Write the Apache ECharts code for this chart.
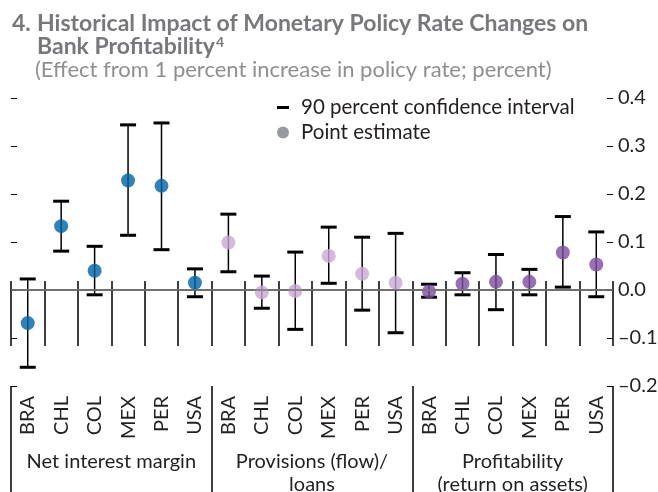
<!DOCTYPE html>
<html>
<head>
<meta charset="utf-8">
<script src="https://cdn.jsdelivr.net/npm/echarts@6/dist/echarts.min.js"></script>
<style>html,body{margin:0;padding:0;background:#fff;}#c{width:658px;height:492px;}</style>
</head>
<body>
<div id="c"></div>
<script>
// ---- data ----
var countries = ['BRA', 'CHL', 'COL', 'MEX', 'PER', 'USA'];
var groups = ['Net interest margin', 'Provisions (flow)/\nloans', 'Profitability\n(return on assets)'];
var yTicks = [-0.2, -0.1, 0.0, 0.1, 0.2, 0.3, 0.4];

var nimPoint = [-0.069, 0.133, 0.040, 0.228, 0.217, 0.015];
var nimLow   = [-0.161, 0.081, -0.010, 0.114, 0.084, -0.014];
var nimHigh  = [0.023, 0.185, 0.091, 0.344, 0.348, 0.044];

var provPoint = [0.099, -0.005, -0.002, 0.071, 0.034, 0.015];
var provLow   = [0.038, -0.038, -0.082, 0.014, -0.042, -0.089];
var provHigh  = [0.158, 0.029, 0.079, 0.131, 0.110, 0.118];

var roaPoint = [-0.003, 0.013, 0.017, 0.017, 0.078, 0.053];
var roaLow   = [-0.015, -0.010, -0.041, -0.010, 0.006, -0.014];
var roaHigh  = [0.012, 0.036, 0.074, 0.043, 0.153, 0.121];

var groupColors = ['#0063a5', '#c9a8d3', '#7c4c9f'];

// ---- build ----
var cats = [];
groups.forEach(function (g, gi) {
  countries.forEach(function (c) { cats.push(gi + '|' + c); });
});
var points = [nimPoint, provPoint, roaPoint];
var lows = [nimLow, provLow, roaLow];
var highs = [nimHigh, provHigh, roaHigh];
var pointData = [], barData = [];
points.forEach(function (arr, gi) {
  arr.forEach(function (v, i) {
    var idx = gi * countries.length + i;
    pointData.push({ value: [idx, v], itemStyle: { color: groupColors[gi] } });
    barData.push([idx, lows[gi][i], highs[gi][i]]);
  });
});

var FONT = 'Lato';
var TXT = '#231f20';
var TCOL = '#77787b';
var chart = echarts.init(document.getElementById('c'), null, { renderer: 'canvas' });
chart.setOption({
  animation: false,
  textStyle: { fontFamily: FONT },
  title: [
    { text: '4.', left: 12, top: 12, padding: 0, textStyle: { fontSize: 23, fontWeight: 'bold', color: TCOL, fontFamily: FONT, lineHeight: 23 } },
    { text: 'Historical Impact of Monetary Policy Rate Changes on\nBank Profitability{sup|4}', left: 37, top: 12, padding: 0,
      textStyle: { fontSize: 23, fontWeight: 'bold', color: TCOL, fontFamily: FONT, lineHeight: 23,
        rich: { sup: { fontSize: 14, fontWeight: 'bold', color: TCOL, verticalAlign: 'top', lineHeight: 23, padding: [0, 0, 10, 1], fontFamily: FONT } } } },
    { text: '(Effect from 1 percent increase in policy rate; percent)', left: 35, top: 58, padding: 0,
      textStyle: { fontSize: 22, fontWeight: 'normal', color: '#8e8f92', fontFamily: FONT, lineHeight: 24 } }
  ],
  legend: {
    orient: 'vertical', left: 277, top: 97, padding: 0, itemWidth: 12, itemHeight: 12, itemGap: 4,
    textStyle: { fontSize: 20.5, color: TXT, fontFamily: FONT, padding: [0, 0, 0, 7] },
    selectedMode: false,
    data: [
      { name: '90 percent confidence interval', icon: 'path://M0,0H12V3H0Z', itemStyle: { color: '#000' } },
      { name: 'Point estimate', icon: 'circle', itemStyle: { color: '#808184' } }
    ]
  },
  grid: { left: 11, right: 45, top: 98, bottom: 106, containLabel: false, outerBoundsMode: 'none' },
  xAxis: [
    {
      type: 'category', data: cats, position: 'bottom', boundaryGap: true,
      axisLine: { show: true, lineStyle: { color: '#000', width: 1.5 } },
      axisTick: { show: true, interval: 0, length: 56, lineStyle: { color: '#000', width: 1.5 } },
      axisLabel: { interval: 0, rotate: 90, margin: 10, fontSize: 20, color: TXT, fontFamily: FONT,
        formatter: function (v) { return v.split('|')[1]; } },
      splitLine: { show: false }
    },
    {
      type: 'category', data: cats, position: 'bottom', boundaryGap: true,
      axisLine: { show: false },
      axisTick: { show: true, inside: true, interval: 0, length: 9, lineStyle: { color: '#000', width: 1.5 } },
      axisLabel: { show: false }, splitLine: { show: false }
    },
    {
      type: 'category', data: groups, position: 'bottom', boundaryGap: true,
      axisLine: { show: false },
      axisTick: { show: true, interval: 0, length: 106, lineStyle: { color: '#000', width: 1.5 } },
      axisLabel: { interval: 0, margin: 64, fontSize: 20, lineHeight: 23, color: TXT, fontFamily: FONT, align: 'center' },
      splitLine: { show: false }
    }
  ],
  yAxis: [
    {
      type: 'value', position: 'right', min: yTicks[0], max: yTicks[yTicks.length - 1], interval: 0.1,
      axisLine: { show: false },
      axisTick: { show: true, inside: true, length: 6, lineStyle: { color: '#000', width: 1 } },
      axisLabel: { margin: 5, fontSize: 20, color: TXT, fontFamily: FONT,
        formatter: function (v) { var s = Math.abs(v).toFixed(1); return (v < -1e-9 ? '\u2013' : '') + s; } },
      splitLine: { show: false }
    },
    {
      type: 'value', position: 'left', min: yTicks[0], max: yTicks[yTicks.length - 1], interval: 0.1,
      axisLine: { show: false },
      axisTick: { show: true, inside: true, length: 6, lineStyle: { color: '#000', width: 1 } },
      axisLabel: { show: false }, splitLine: { show: false }
    }
  ],
  series: [
    {
      name: '90 percent confidence interval', type: 'custom', xAxisIndex: 0, yAxisIndex: 0,
      data: barData, encode: { x: 0, y: [1, 2] }, z: 3,
      renderItem: function (params, api) {
        var x = api.value(0), lo = api.value(1), hi = api.value(2);
        var a = api.coord([x, lo]), b = api.coord([x, hi]);
        var h = 8;
        return {
          type: 'group', children: [
            { type: 'line', shape: { x1: a[0], y1: a[1], x2: b[0], y2: b[1] }, style: { stroke: '#000', lineWidth: 1.5 } },
            { type: 'line', shape: { x1: b[0] - h, y1: b[1], x2: b[0] + h, y2: b[1] }, style: { stroke: '#000', lineWidth: 3 } },
            { type: 'line', shape: { x1: a[0] - h, y1: a[1], x2: a[0] + h, y2: a[1] }, style: { stroke: '#000', lineWidth: 3 } }
          ]
        };
      }
    },
    {
      name: 'Point estimate', type: 'scatter', xAxisIndex: 0, yAxisIndex: 0,
      data: pointData, symbol: 'circle', symbolSize: 14, z: 4,
      markLine: {
        silent: true, symbol: 'none', label: { show: false },
        lineStyle: { color: '#808080', width: 1.5, type: 'solid' },
        data: [{ yAxis: 0 }]
      }
    }
  ]
});
</script>
</body>
</html>
